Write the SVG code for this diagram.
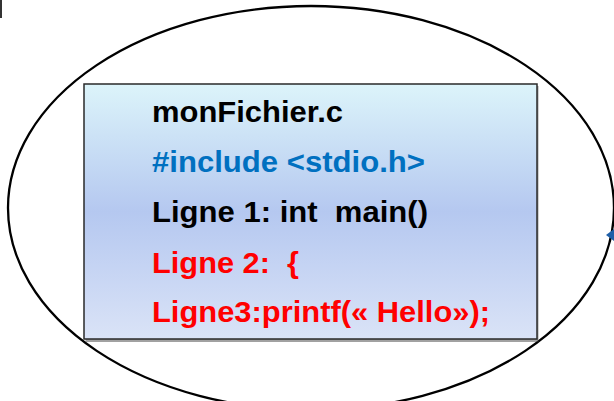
<svg xmlns="http://www.w3.org/2000/svg" width="614" height="401" viewBox="0 0 614 401">
  <defs>
    <linearGradient id="boxFill" x1="0" y1="0" x2="0" y2="1">
      <stop offset="0" stop-color="#dcf4fa"/>
      <stop offset="0.5" stop-color="#b5c8f0"/>
      <stop offset="1" stop-color="#dae3f7"/>
    </linearGradient>
    <style>
      .t { font-family: "Liberation Sans", Arial, sans-serif; font-weight: bold; font-size: 29px; }
      .black { fill: #000000; }
      .blue { fill: #0070c0; }
      .red { fill: #ff0000; }
    </style>
  </defs>
  <rect x="0" y="0" width="614" height="401" fill="#ffffff"/>
  <line x1="1" y1="0" x2="1" y2="18" stroke="#333333" stroke-width="2"/>
  <g id="ellipse">
    <ellipse cx="311" cy="208" rx="303" ry="202" fill="none" stroke="#000000" stroke-width="2.3"/>
  </g>
  <g id="file-box">
    <rect x="85.5" y="86" width="453" height="256" fill="#444444" opacity="0.5"/>
    <rect x="84" y="84" width="453" height="255" fill="url(#boxFill)" stroke="#2a2a2a" stroke-width="1.5"/>
    <text class="t black" x="152" y="122" textLength="191" lengthAdjust="spacingAndGlyphs">monFichier.c</text>
    <text class="t blue" x="152" y="172" textLength="273" lengthAdjust="spacingAndGlyphs">#include &lt;stdio.h&gt;</text>
    <text class="t black" x="152" y="222" textLength="276" lengthAdjust="spacingAndGlyphs" xml:space="preserve">Ligne 1: int  main()</text>
    <text class="t red" x="152" y="273" textLength="147" lengthAdjust="spacingAndGlyphs" xml:space="preserve">Ligne 2:  {</text>
    <text class="t red" x="152" y="322" textLength="338" lengthAdjust="spacingAndGlyphs">Ligne3:printf(« Hello»);</text>
  </g>
  <g id="connectors">
    <polygon points="606,235 614,229 614,241" fill="#1f5fa8"/>
  </g>
</svg>
